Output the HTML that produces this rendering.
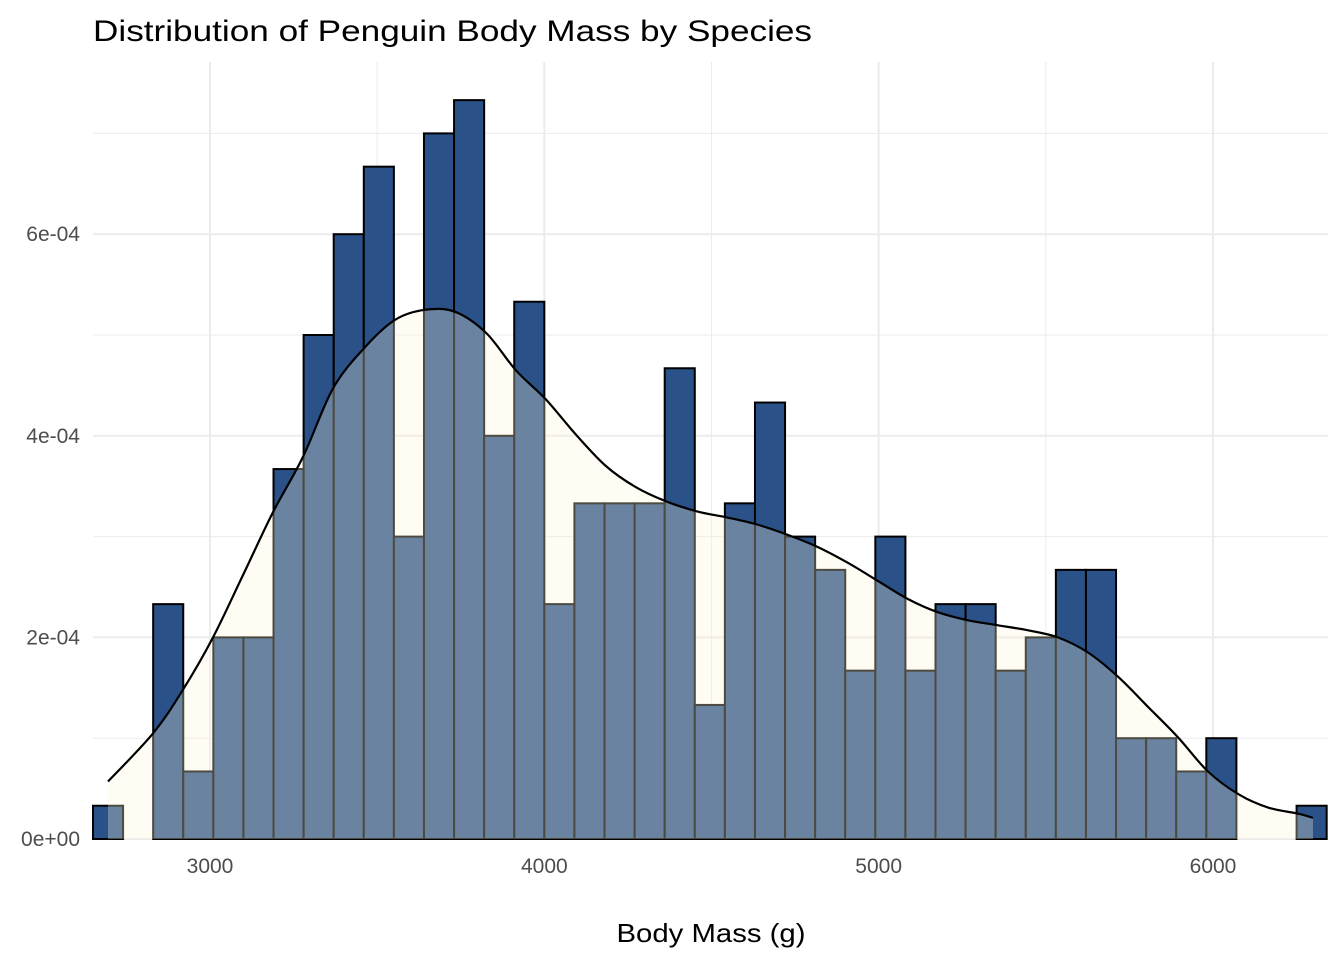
<!DOCTYPE html>
<html><head><meta charset="utf-8"><style>
body{margin:0;background:#fff}
svg{display:block}
text{font-family:"Liberation Sans",sans-serif}
</style></head><body>
<svg id="chart" width="1344" height="960" viewBox="0 0 1344 960" xmlns="http://www.w3.org/2000/svg">
<text x="93" y="41" font-size="30" fill="#000" textLength="719" lengthAdjust="spacingAndGlyphs">Distribution of Penguin Body Mass by Species</text>
<g id="grid"></g>
<g id="bars"></g>
<g id="dens"></g>
<g id="axes"></g>
<text x="711" y="942" font-size="26" fill="#000" text-anchor="middle" textLength="189" lengthAdjust="spacingAndGlyphs">Body Mass (g)</text>
</svg>
<script>
const binStart = 2650;
const binWidth = 90;
const binDensity = [0.33,0,2.33,0.67,2.0,2.0,3.67,5.0,6.0,6.67,3.0,7.0,7.33,4.0,5.33,2.33,3.33,3.33,3.33,4.67,1.33,3.33,4.33,3.0,2.67,1.67,3.0,1.67,2.33,2.33,1.67,2.0,2.67,2.67,1.0,1.0,0.67,1.0,0,0,0.33];
const densX = [2695,2830,2919,3009,3099,3188,3278,3368,3464,3553,3643,3733,3826,3915,4005,4095,4184,4274,4364,4457,4546,4636,4726,4816,4908,4998,5088,5177,5267,5357,5447,5536,5626,5716,5806,5895,5985,6078,6167,6257,6299];
const densY = [0.57,1.05,1.48,2.00,2.62,3.24,3.79,4.47,4.88,5.15,5.25,5.23,5.02,4.65,4.36,4.01,3.70,3.49,3.35,3.25,3.19,3.12,3.02,2.90,2.74,2.56,2.38,2.25,2.17,2.12,2.07,2.00,1.85,1.61,1.31,1.01,0.67,0.44,0.31,0.25,0.21];
const xTicks = [3000,4000,5000,6000];
const xMinor = [3500,4500,5500];
const yTicks = [0,2,4,6];
const yTickLabels = ["0e+00","2e-04","4e-04","6e-04"];
const yMinor = [1,3,5,7];

const NS="http://www.w3.org/2000/svg";
const L=93,R=1328,T=62,B=839;
const xs=g=>210+(g-3000)*(1003/3000);
const ys=v=>839-v*100.8;
function mk(tag,attrs,parent){const e=document.createElementNS(NS,tag);for(const k in attrs)e.setAttribute(k,attrs[k]);parent.appendChild(e);return e;}
const grid=document.getElementById('grid'),bars=document.getElementById('bars'),dens=document.getElementById('dens'),axes=document.getElementById('axes');
yMinor.forEach(v=>{const l=mk('line',{x1:L,x2:R,y1:ys(v),y2:ys(v),stroke:'#ebebeb','stroke-width':1},grid);

});
xMinor.forEach(v=>{const l=mk('line',{x1:xs(v),x2:xs(v),y1:T,y2:B,stroke:'#ebebeb','stroke-width':1},grid);

});
yTicks.forEach((v,i)=>{const l=mk('line',{x1:L,x2:R,y1:ys(v),y2:ys(v),stroke:'#ebebeb','stroke-width':2},grid);


const t=mk('text',{x:80,y:ys(v)+7,'font-size':21,fill:'#4d4d4d','text-anchor':'end'},axes);t.textContent=yTickLabels[i];

});
xTicks.forEach(v=>{const l=mk('line',{x1:xs(v),x2:xs(v),y1:T,y2:B,stroke:'#ebebeb','stroke-width':2},grid);


const t=mk('text',{x:xs(v),y:873,'font-size':21,fill:'#4d4d4d','text-anchor':'middle'},axes);t.textContent=v;

});
binDensity.forEach((d,i)=>{const x0=xs(binStart+i*binWidth),x1=xs(binStart+(i+1)*binWidth);
const r=mk('rect',{x:x0,y:ys(d),width:x1-x0,height:B-ys(d),fill:'#2a5288',stroke:'#000','stroke-width':2},bars);

});
const P=densX.map((g,i)=>[xs(g),ys(densY[i])]);
let d='M'+P[0][0].toFixed(1)+','+P[0][1].toFixed(1);
for(let i=0;i<P.length-1;i++){const p0=P[Math.max(0,i-1)],p1=P[i],p2=P[i+1],p3=P[Math.min(P.length-1,i+2)];
const c1=[p1[0]+(p2[0]-p0[0])/6,p1[1]+(p2[1]-p0[1])/6],c2=[p2[0]-(p3[0]-p1[0])/6,p2[1]-(p3[1]-p1[1])/6];
d+=' C'+c1[0].toFixed(1)+','+c1[1].toFixed(1)+' '+c2[0].toFixed(1)+','+c2[1].toFixed(1)+' '+p2[0].toFixed(1)+','+p2[1].toFixed(1);}
const area=mk('path',{d:d+' L'+P[P.length-1][0].toFixed(1)+','+B+' L'+P[0][0].toFixed(1)+','+B+' Z',fill:'#fff5d6','fill-opacity':0.3},dens);


const line=mk('path',{d:d,fill:'none',stroke:'#000','stroke-width':2.2},dens);


</script>
</body></html>
